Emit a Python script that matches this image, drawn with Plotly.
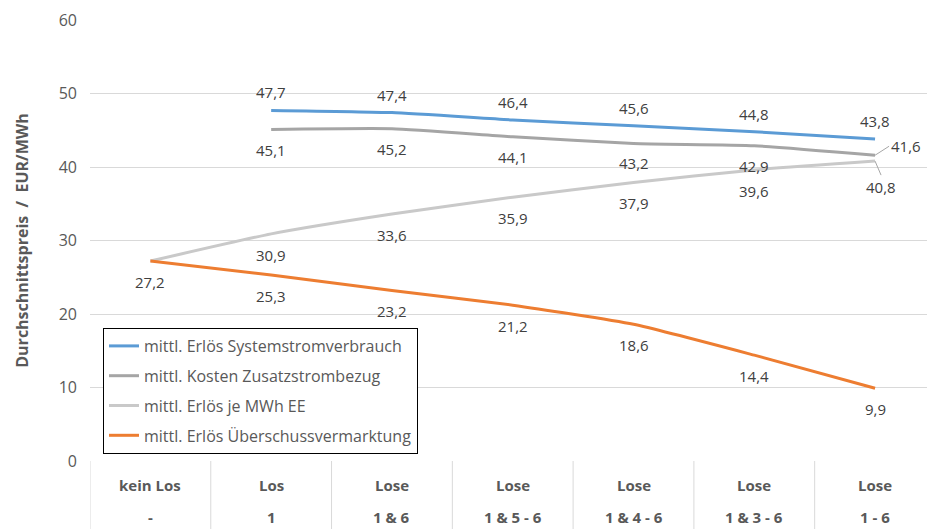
import plotly.graph_objects as go

categories = ["kein Los", "Los", "Lose", "Lose", "Lose", "Lose", "Lose"]
row2 = ["-", "1", "1 & 6", "1 & 5 - 6", "1 & 4 - 6", "1 & 3 - 6", "1 - 6"]
x_idx = list(range(len(categories)))

names = ["mittl. Erlös Systemstromverbrauch", "mittl. Kosten Zusatzstrombezug",
         "mittl. Erlös je MWh EE", "mittl. Erlös Überschussvermarktung"]
system = [None, 47.7, 47.4, 46.4, 45.6, 44.8, 43.8]
zusatz = [None, 45.1, 45.2, 44.1, 43.2, 42.9, 41.6]
ee = [27.2, 30.9, 33.6, 35.9, 37.9, 39.6, 40.8]
ueber = [27.2, 25.3, 23.2, 21.2, 18.6, 14.4, 9.9]
series = [system, zusatz, ee, ueber]
colors = ["#5B9BD5", "#A5A5A5", "#C9C9C9", "#ED7D31"]
label_shift = [18, -20, -21, -21]   # px offsets of data labels

fig = go.Figure()
for i, (nm, vals, col) in enumerate(zip(names, series, colors)):
    xs = [x for x, v in zip(x_idx, vals) if v is not None]
    ys = [v for v in vals if v is not None]
    fig.add_trace(go.Scatter(x=xs, y=ys, mode="lines", name=nm, legendgroup=str(i),
                             line=dict(color=col, width=3, shape="spline", smoothing=0.5)))

def fmt(v):
    return f"{v:.1f}".replace(".", ",")

ann = []
lab_font = dict(family="Open Sans", size=15, color="#404040")
for s, vals in enumerate(series):
    for x, v in zip(x_idx, vals):
        if v is None:
            continue
        if s == 3 and x == 0:
            continue
        if x == 6 and s == 1:
            ann.append(dict(x=x, y=v, text=fmt(v), showarrow=True, arrowhead=0, arrowwidth=1,
                            arrowcolor="#A6A6A6", ax=14, ay=-9, xanchor="left", font=lab_font,
                            standoff=0))
            continue
        if x == 6 and s == 2:
            ann.append(dict(x=x, y=v, text=fmt(v), showarrow=True, arrowhead=0, arrowwidth=1,
                            arrowcolor="#A6A6A6", ax=6, ay=14, yanchor="top", font=lab_font,
                            standoff=0))
            continue
        ann.append(dict(x=x, y=v, text=fmt(v), showarrow=False, yshift=label_shift[s],
                        font=lab_font))

plot_h = 441
tab_font = dict(family="Open Sans", size=15, color="#595959")
for x, a, b in zip(x_idx, categories, row2):
    ann.append(dict(x=x, y=-24 / plot_h, xref="x", yref="paper", text=f"<b>{a}</b>",
                    showarrow=False, font=tab_font, yanchor="middle"))
    ann.append(dict(x=x, y=-56 / plot_h, xref="x", yref="paper", text=f"<b>{b}</b>",
                    showarrow=False, font=tab_font, yanchor="middle"))

shapes = []
for k in range(len(categories) + 1):
    shapes.append(dict(type="line", xref="x", yref="paper", x0=k - 0.5, x1=k - 0.5,
                       y0=0, y1=-70 / plot_h, line=dict(color="#D9D9D9", width=1)))

fig.update_layout(
    width=927, height=529,
    margin=dict(l=90, r=0, t=20, b=68),
    paper_bgcolor="white", plot_bgcolor="white",
    font=dict(family="Open Sans", color="#595959"),
    showlegend=True,
    legend=dict(x=13 / 837, y=(461 - 328) / 441, xanchor="left", yanchor="top",
                bordercolor="black", borderwidth=1, bgcolor="white",
                font=dict(family="Open Sans", size=16, color="#595959"),
                traceorder="grouped", tracegroupgap=6),
    annotations=ann,
    shapes=shapes,
)
fig.update_xaxes(range=[-0.5, 6.43], showticklabels=False, showgrid=False, zeroline=False,
                 showline=False, tickvals=x_idx)
fig.update_yaxes(range=[0, 60], dtick=10, showgrid=True, gridcolor="#D9D9D9", gridwidth=1,
                 zeroline=False, showline=False, ticks="", ticklabelstandoff=12,
                 tickfont=dict(family="Open Sans", size=16, color="#595959"),
                 title=dict(text="<b>Durchschnittspreis  /  EUR/MWh</b>",
                            font=dict(family="Open Sans", size=16, color="#595959"), standoff=26))

fig.write_html("out.html")
